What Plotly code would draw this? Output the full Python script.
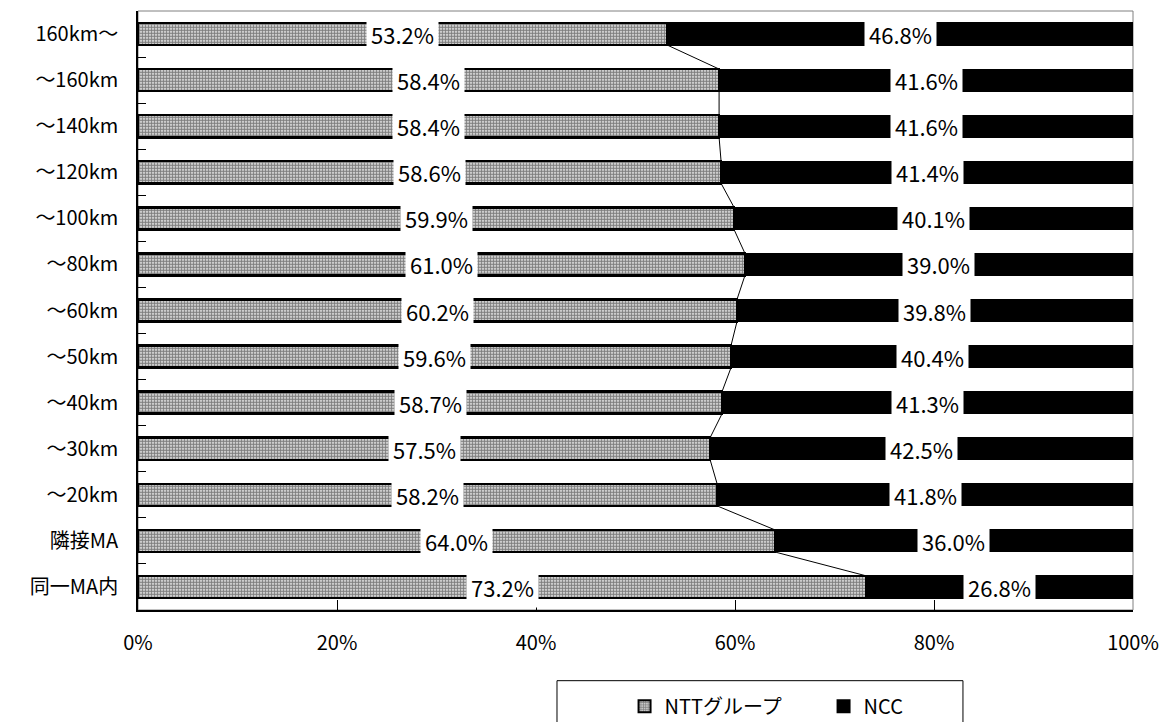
import plotly.graph_objects as go

categories = ["同一MA内", "隣接MA", "～20km", "～30km", "～40km", "～50km", "～60km",
              "～80km", "～100km", "～120km", "～140km", "～160km", "160km～"]
ntt = [73.2, 64.0, 58.2, 57.5, 58.7, 59.6, 60.2, 61.0, 59.9, 58.6, 58.4, 58.4, 53.2]
ncc = [26.8, 36.0, 41.8, 42.5, 41.3, 40.4, 39.8, 39.0, 40.1, 41.4, 41.6, 41.6, 46.8]
x_ticks = [0, 20, 40, 60, 80, 100]

FONT = "Noto Sans CJK JP"
BW = 0.48
ypos = list(range(len(categories)))

fig = go.Figure()
fig.add_trace(go.Bar(
    y=ypos, x=ntt, orientation="h", name="NTTグループ", width=BW,
    marker=dict(color="white", line=dict(color="black", width=2.5),
                pattern=dict(shape=".", fgcolor="black", bgcolor="white", size=3, solidity=0.7)),
))
fig.add_trace(go.Bar(
    y=ypos, x=ncc, orientation="h", name="NCC", width=BW,
    marker=dict(color="black", line=dict(color="black", width=1)),
))

# series lines between bars
lx, ly = [], []
for i in range(len(categories) - 1):
    lx += [ntt[i], ntt[i + 1], None]
    ly += [i + BW / 2, i + 1 - BW / 2, None]
fig.add_trace(go.Scatter(x=lx, y=ly, mode="lines", line=dict(color="black", width=1),
                         showlegend=False, hoverinfo="skip"))

for i in range(len(categories)):
    fig.add_annotation(x=ntt[i] / 2, y=i, text=f"{ntt[i]:.1f}%", showarrow=False,
                       bgcolor="white", borderpad=4, font=dict(family=FONT, size=22, color="black"))
    fig.add_annotation(x=ntt[i] + ncc[i] / 2, y=i, text=f"{ncc[i]:.1f}%", showarrow=False,
                       bgcolor="white", borderpad=4, font=dict(family=FONT, size=22, color="black"))

# plot frame (top/right grey)
fig.add_shape(type="rect", xref="paper", yref="paper", x0=0, x1=1, y0=0, y1=1,
              line=dict(color="#808080", width=1), layer="below")
# legend frame
fig.add_shape(type="rect", xref="paper", yref="paper", x0=0.4211, x1=0.8291, y0=-0.118, y1=-0.3,
              line=dict(color="black", width=1), fillcolor="white", layer="below")

fig.update_layout(
    barmode="stack",
    width=1170, height=722,
    margin=dict(l=130, r=45, t=3, b=120),
    plot_bgcolor="white", paper_bgcolor="white",
    font=dict(family=FONT, size=20, color="black"),
    showlegend=True,
    legend=dict(orientation="h", x=0.489, xanchor="left", y=-0.128, yanchor="top",
                traceorder="normal", borderwidth=0, bgcolor="rgba(0,0,0,0)",
                font=dict(family=FONT, size=20), entrywidth=154, itemwidth=30,
                itemsizing="constant"),
    xaxis=dict(range=[0, 100], tickvals=x_ticks, ticktext=[f"{v}%" for v in x_ticks],
               ticks="inside", ticklen=10, tickcolor="black", showgrid=False, zeroline=False,
               showline=True, linecolor="black", linewidth=1.5, ticklabelstandoff=14,
               tickfont=dict(family=FONT, size=20)),
    yaxis=dict(range=[-0.5, len(categories) - 0.5], tickvals=ypos, ticktext=categories,
               ticks="", showgrid=False, zeroline=False, showline=True, linecolor="black",
               linewidth=1.5, ticklabelstandoff=14,
               minor=dict(tickmode="array", tickvals=[i + 0.5 for i in range(len(categories) - 1)],
                          ticks="inside", ticklen=8, tickcolor="black"),
               tickfont=dict(family=FONT, size=20)),
)

fig.write_html("out.html")
